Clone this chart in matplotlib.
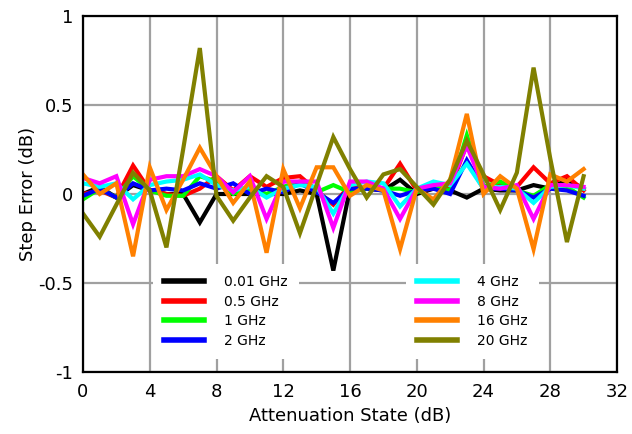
import matplotlib
matplotlib.use("Agg")
import matplotlib.pyplot as plt
from matplotlib.lines import Line2D

plt.rcParams["axes.unicode_minus"] = False
plt.rcParams["font.family"] = "DejaVu Sans"

# attenuation states 0..30 dB
states = list(range(31))

err_0p01 = [0.00, 0.04, -0.02, 0.05, 0.02, 0.00, 0.00, -0.16, 0.00, 0.00, 0.00,
            0.00, 0.00, 0.02, 0.00, -0.43, 0.03, 0.03, 0.02, 0.08, 0.00,
            0.03, 0.02, -0.02, 0.03, 0.02, 0.02, 0.05, 0.03, 0.08, 0.03]
err_0p5 = [0.00, 0.02, -0.02, 0.16, 0.02, 0.00, -0.01, 0.03, 0.10, 0.02, 0.10,
           0.04, 0.09, 0.10, 0.02, -0.06, 0.05, 0.03, 0.03, 0.17, 0.02,
           0.03, 0.03, 0.28, 0.10, 0.05, 0.04, 0.15, 0.06, 0.10, 0.02]
err_1 = [-0.03, 0.03, -0.02, 0.10, 0.02, -0.01, -0.01, 0.10, 0.07, 0.00, 0.03,
         0.00, 0.04, 0.07, 0.01, 0.05, 0.01, 0.03, 0.03, 0.03, 0.01,
         0.04, 0.02, 0.33, 0.04, 0.07, 0.02, -0.01, 0.05, 0.04, -0.02]
err_2 = [-0.01, 0.03, -0.02, 0.06, 0.02, 0.03, 0.02, 0.06, 0.03, 0.06, 0.00,
         0.03, 0.01, 0.06, 0.01, -0.05, 0.03, 0.03, 0.02, -0.01, 0.02,
         0.03, 0.00, 0.19, 0.03, 0.03, 0.02, -0.02, 0.03, 0.02, -0.01]
err_4 = [0.06, 0.04, 0.06, -0.03, 0.05, 0.07, 0.08, 0.11, 0.05, 0.02, 0.04,
         -0.02, 0.03, 0.05, 0.04, -0.11, 0.05, 0.07, 0.06, -0.07, 0.03,
         0.07, 0.05, 0.17, 0.03, 0.04, 0.03, -0.05, 0.04, 0.05, 0.03]
err_8 = [0.09, 0.06, 0.10, -0.17, 0.08, 0.10, 0.10, 0.14, 0.10, 0.01, 0.10,
         -0.14, 0.07, 0.07, 0.07, -0.19, 0.07, 0.07, 0.03, -0.14, 0.03,
         0.05, 0.06, 0.27, 0.04, 0.03, 0.05, -0.14, 0.05, 0.05, 0.04]
err_16 = [0.11, 0.00, 0.06, -0.35, 0.15, -0.09, 0.08, 0.26, 0.10, -0.05, 0.07,
          -0.33, 0.14, -0.08, 0.15, 0.15, -0.01, 0.05, 0.02, -0.31, 0.03,
          -0.03, 0.08, 0.45, 0.00, 0.10, 0.03, -0.31, 0.11, 0.07, 0.14]
err_20 = [-0.11, -0.24, -0.06, 0.12, 0.02, -0.30, 0.25, 0.82, -0.01, -0.15, -0.02,
          0.10, 0.04, -0.22, 0.05, 0.32, 0.14, -0.02, 0.11, 0.14, 0.04,
          -0.06, 0.08, 0.30, 0.11, -0.09, 0.12, 0.71, 0.20, -0.27, 0.10]

labels = ["0.01 GHz", "0.5 GHz", "1 GHz", "2 GHz",
          "4 GHz", "8 GHz", "16 GHz", "20 GHz"]
series = [err_0p01, err_0p5, err_1, err_2, err_4, err_8, err_16, err_20]
colors = ["#000000", "#ff0000", "#00ff00", "#0000ff",
          "#00ffff", "#ff00ff", "#ff8000", "#808000"]

x_ticks = list(range(0, 33, 4))
y_ticks = [-1, -0.5, 0, 0.5, 1]
y_tick_labels = ["-1", "-0.5", "0", "0.5", "1"]

fig = plt.figure(figsize=(6.32, 4.34), dpi=100)
ax = fig.add_axes([83 / 632, 1 - 372 / 434, 534 / 632, 356 / 434])

for y, c in zip(series, colors):
    ax.plot(states, y, color=c, linewidth=3, solid_joinstyle="miter")

ax.set_xlim(0, 32)
ax.set_ylim(-1, 1)
ax.set_xticks(x_ticks)
ax.set_yticks(y_ticks)
ax.set_yticklabels(y_tick_labels)
ax.grid(True, color="#a0a0a0", linewidth=1.6)
ax.set_axisbelow(True)
ax.tick_params(axis="x", length=0, labelsize=13, pad=8)
ax.tick_params(axis="y", length=0, labelsize=13, pad=7)
for s in ax.spines.values():
    s.set_linewidth(1.6)
    s.set_color("black")

ax.set_xlabel("Attenuation State (dB)", fontsize=13, labelpad=4)
ax.set_ylabel("Step Error (dB)", fontsize=13, labelpad=1)

# two legend blocks, each with white background
handles = [Line2D([], [], color=c, linewidth=4) for c in colors]
leg_kw = dict(frameon=True, fancybox=False, fontsize=10, handlelength=2.9,
              handletextpad=1.4, labelspacing=0.4, borderpad=0.8,
              borderaxespad=0, loc="upper left")
leg1 = ax.legend(handles[:4], labels[:4],
                 bbox_to_anchor=(153 / 632, 1 - 264 / 434),
                 bbox_transform=fig.transFigure, **leg_kw)
leg1.get_frame().set_edgecolor("none")
leg1.get_frame().set_facecolor("white")
leg1.get_frame().set_alpha(1)
ax.add_artist(leg1)
leg2 = ax.legend(handles[4:], labels[4:],
                 bbox_to_anchor=(406 / 632, 1 - 264 / 434),
                 bbox_transform=fig.transFigure, **leg_kw)
leg2.get_frame().set_edgecolor("none")
leg2.get_frame().set_facecolor("white")
leg2.get_frame().set_alpha(1)

fig.savefig("out.png", dpi=100)
